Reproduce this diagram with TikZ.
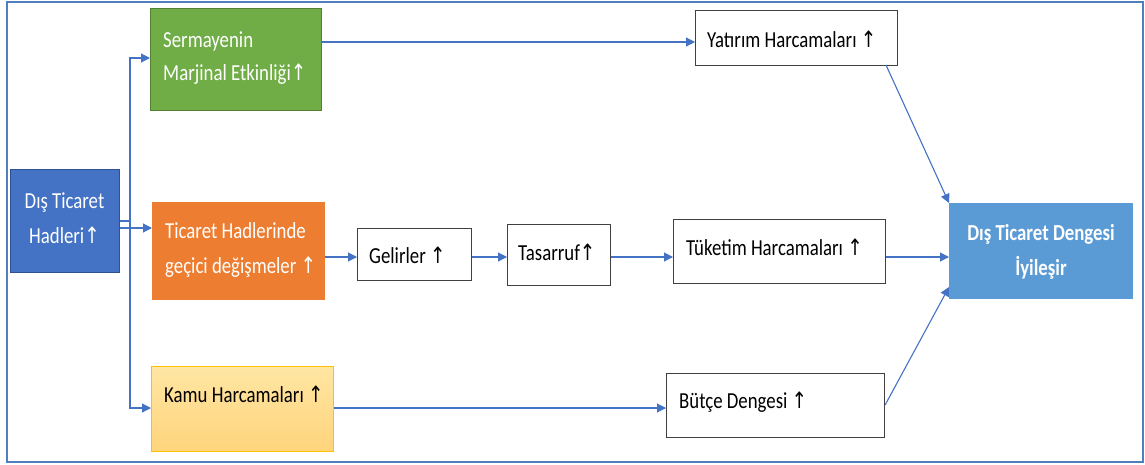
\documentclass[tikz,border=0pt]{standalone}
\usepackage{fontspec}
\setmainfont{Carlito}
\newfontfamily\arrfont{DejaVu Sans}
\usetikzlibrary{arrows.meta}
\newcommand\up{{\arrfont\fontsize{18.5}{20}\selectfont ↑}}
\newcommand\tx[1]{\scalebox{1}[1.22]{#1}}
\definecolor{frameblue}{HTML}{4F7FBE}
\definecolor{conn}{HTML}{4472C4}
\definecolor{hadfill}{HTML}{4472C4}
\definecolor{hadedge}{HTML}{2F528F}
\definecolor{greenfill}{HTML}{70AD47}
\definecolor{greenedge}{HTML}{548235}
\definecolor{orangefill}{HTML}{ED7D31}
\definecolor{dengfill}{HTML}{5B9BD5}
\definecolor{kamutop}{HTML}{FFE6A3}
\definecolor{kamubot}{HTML}{FFD47C}
\definecolor{kamuedge}{HTML}{FFC000}
\definecolor{boxedge}{HTML}{404040}
\tikzset{
  bx/.style={rectangle, inner sep=0pt, anchor=north west},
  wbox/.style={bx, draw=boxedge, line width=1.1pt, fill=white},
  lbl/.style={inner sep=0pt, font=\fontsize{18.8}{22}\selectfont},
  arr/.style={draw=conn, line width=1.1pt, -{Triangle[length=9pt,width=9pt]}},
  ln/.style={draw=conn, line width=1.1pt},
}
\begin{document}
\begin{tikzpicture}[x=1pt,y=-1pt]
\useasboundingbox (0,0) rectangle (1145,464);
\draw[frameblue, line width=2pt] (7,2) rectangle (1143,462);
% boxes
\node[bx, fill=hadfill, draw=hadedge, line width=1.2pt, minimum width=109pt, minimum height=103pt] (had) at (10,169) {};
\node[bx, fill=greenfill, draw=greenedge, line width=1.2pt, minimum width=171pt, minimum height=102pt] (serm) at (150,8) {};
\node[bx, fill=orangefill, minimum width=173pt, minimum height=98pt] (tic) at (152,202) {};
\node[bx, top color=kamutop, bottom color=kamubot, draw=kamuedge, line width=0.8pt, minimum width=182pt, minimum height=85pt] (kamu) at (151,366) {};
\node[wbox, minimum width=114pt, minimum height=52pt] (gel) at (357,228) {};
\node[wbox, minimum width=103pt, minimum height=61pt] (tas) at (507,224) {};
\node[wbox, minimum width=212pt, minimum height=64pt] (tuk) at (673,219) {};
\node[wbox, minimum width=202pt, minimum height=55pt] (yat) at (695,10) {};
\node[wbox, minimum width=218pt, minimum height=64pt] (but) at (666,373) {};
\node[bx, fill=dengfill, minimum width=184pt, minimum height=96pt] (deng) at (949,203) {};
% texts
\node[lbl, text=white, anchor=base] (had1) at (64.5,208) {\tx{Dış Ticaret}};
\node[lbl, text=white, anchor=base] (had2) at (64.5,243) {\tx{Hadleri\up}};
\node[lbl, text=white, anchor=base west] (serm1) at (163,47) {\tx{Sermayenin}};
\node[lbl, text=white, anchor=base west] (serm2) at (163,80) {\tx{Marjinal Etkinliği\up}};
\node[lbl, text=white, anchor=base west] (tic1) at (165,238) {\tx{Ticaret Hadlerinde}};
\node[lbl, text=white, anchor=base west] (tic2) at (165,273) {\tx{geçici değişmeler \up}};
\node[lbl, anchor=base west] (gel1) at (369,263) {\tx{Gelirler \up}};
\node[lbl, anchor=base west] (tas1) at (518,260) {\tx{Tasarruf\up}};
\node[lbl, anchor=base west] (tuk1) at (686,255) {\tx{Tüketim Harcamaları \up}};
\node[lbl, anchor=base west] (yat1) at (707,47) {\tx{Yatırım Harcamaları \up}};
\node[lbl, anchor=base west] (kamu1) at (164,402) {\tx{Kamu Harcamaları \up}};
\node[lbl, anchor=base west] (but1) at (679,408) {\tx{Bütçe Dengesi \up}};
\node[lbl, text=white, anchor=base] (deng1) at (1041,240) {\tx{\bfseries Dış Ticaret Dengesi}};
\node[lbl, text=white, anchor=base] (deng2) at (1041,275) {\tx{\bfseries İyileşir}};
% connectors
\coordinate (trunk) at (130,221);
\coordinate (yA) at (0,42);
\coordinate (yB) at (0,257);
\coordinate (yC) at (0,408);
\coordinate (yD) at (0,228);
\draw[ln] (had.east |- trunk) -- (trunk);
\draw[arr] (trunk) |- (serm.west |- 0,58);
\draw[arr] (trunk) |- (kamu.west |- yC);
\draw[arr] (had.east |- yD) -- (tic.west |- yD);
\draw[arr] (serm.east |- yA) -- (yat.west |- yA);
\draw[arr] (tic.east |- yB) -- (gel.west |- yB);
\draw[arr] (gel.east |- yB) -- (tas.west |- yB);
\draw[arr] (tas.east |- yB) -- (tuk.west |- yB);
\draw[arr] (tuk.east |- yB) -- (deng.west |- yB);
\draw[arr] (kamu.east |- yC) -- (but.west |- yC);
\draw[arr] (886,65) -- (deng.north west);
\draw[arr] (but.east |- 0,405) -- (deng.west |- 0,287);
\end{tikzpicture}
\end{document}
